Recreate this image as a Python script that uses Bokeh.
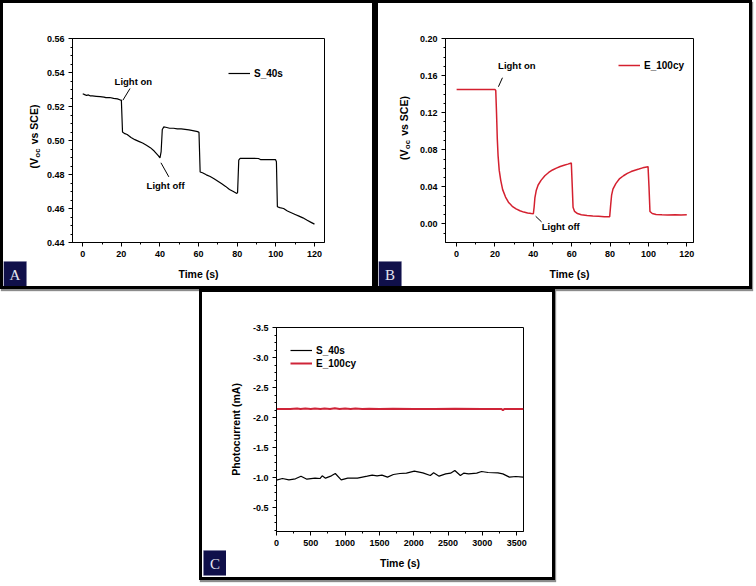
import numpy as np
from bokeh.plotting import figure
from bokeh.models import (Range1d, FixedTicker, NumeralTickFormatter, Label,
                          BoxAnnotation, Legend, LegendItem, Spacer)
from bokeh.layouts import row, column
from bokeh.embed import file_html
from bokeh.resources import INLINE

# ---------------- data ----------------
# Panel A : S_40s open-circuit potential (V vs SCE)
time_A = [0, 1, 2, 3, 4, 5, 7, 9, 11, 12, 14, 16, 18, 19.5, 20, 20.6, 21.5, 23, 25, 27, 29,
          31, 33, 35, 37, 39, 40, 40.6, 41.2, 42, 43, 45, 47, 49, 51, 53, 55, 57, 59.5,
          60.2, 60.8, 62, 64, 66, 68, 70, 72, 74, 76, 78, 79.8, 80.2, 80.8, 81.5, 84, 88,
          91, 92, 96, 99.8, 100.3, 100.8, 102, 104, 106, 108, 110, 112, 114, 116, 118, 120]
voc_A = [0.5275, 0.527, 0.5265, 0.5268, 0.5262, 0.5262, 0.526, 0.5258, 0.5255, 0.5252,
         0.5253, 0.5248, 0.5245, 0.5238, 0.5238, 0.505, 0.5042, 0.5035, 0.5018, 0.5005,
         0.4995, 0.4985, 0.4972, 0.4958, 0.4938, 0.4912, 0.4898, 0.4935, 0.5065, 0.508,
         0.5078, 0.5072, 0.5072, 0.5068, 0.5068, 0.5065, 0.5062, 0.5058, 0.5052, 0.5048,
         0.4815, 0.481, 0.4798, 0.4788, 0.4775, 0.476, 0.4745, 0.473, 0.4712, 0.470,
         0.4688, 0.4695, 0.4885, 0.4895, 0.4895, 0.4895, 0.4894, 0.4888, 0.4888, 0.4888,
         0.4875, 0.461, 0.4605, 0.460, 0.4585, 0.4575, 0.4565, 0.4555, 0.4545, 0.4532,
         0.452, 0.4508]

# Panel B : E_100cy open-circuit potential (V vs SCE)
time_B = [0, 20, 20.4, 20.8, 21.2, 21.6, 22.2, 23, 24, 25.5, 27, 29, 31, 33, 35, 37, 39, 40,
          40.4, 40.8, 41.5, 42.5, 44, 46, 48, 50, 52, 54, 56, 58, 59.8, 60.3, 60.7, 61.5,
          63, 65, 68, 71, 74, 77, 79.8, 80.3, 80.8, 81.5, 83, 85, 87, 89, 91, 93, 95, 97,
          99.8, 100.3, 100.8, 102, 104, 107, 110, 114, 117, 120]
voc_B = [0.145, 0.145, 0.144, 0.12, 0.092, 0.074, 0.058, 0.047, 0.037, 0.029, 0.0235,
         0.019, 0.0162, 0.0142, 0.0128, 0.0118, 0.0112, 0.011, 0.018, 0.028, 0.036, 0.042,
         0.047, 0.052, 0.0555, 0.0582, 0.0602, 0.062, 0.0633, 0.0645, 0.0658, 0.04, 0.018,
         0.0135, 0.0112, 0.010, 0.0092, 0.0086, 0.0082, 0.0078, 0.0078, 0.020, 0.031,
         0.0375, 0.0435, 0.049, 0.052, 0.0545, 0.0565, 0.058, 0.0592, 0.0605, 0.0618,
         0.040, 0.0135, 0.0112, 0.0102, 0.0099, 0.0097, 0.0098, 0.0097, 0.0098]

# Panel C : photocurrent (mA)
time_C_S = [0, 86, 181, 276, 357, 443, 562, 633, 666, 714, 800, 857, 943, 1038, 1180, 1252,
            1323, 1395, 1466, 1537, 1618, 1704, 1799, 1894, 2009, 2133, 2242, 2290, 2370,
            2466, 2537, 2599, 2680, 2728, 2799, 2918, 2989, 3084, 3227, 3299, 3394, 3489,
            3594]
cur_C_S = [-0.956, -0.983, -0.961, -0.978, -1.022, -0.972, -0.989, -0.983, -1.028, -0.989,
           -1.028, -1.067, -0.961, -0.989, -0.989, -1.006, -1.022, -1.039, -1.028, -1.039,
           -1.006, -1.05, -1.067, -1.072, -1.106, -1.078, -1.033, -1.078, -1.022, -1.061,
           -1.072, -1.117, -1.033, -1.072, -1.061, -1.072, -1.1, -1.083, -1.078, -1.061,
           -1.006, -1.017, -1.006]
time_C_E = [0, 200, 300, 350, 420, 500, 560, 640, 700, 780, 850, 920, 1000, 1080, 1150,
            1250, 1350, 1500, 1700, 2000, 2300, 2600, 3000, 3280, 3300, 3320, 3600]
cur_C_E = [-2.14, -2.14, -2.15, -2.14, -2.15, -2.14, -2.15, -2.14, -2.15, -2.14, -2.155,
           -2.14, -2.15, -2.14, -2.15, -2.14, -2.145, -2.14, -2.145, -2.14, -2.14, -2.145,
           -2.14, -2.14, -2.12, -2.14, -2.14]

# tick values
ticks_x_AB = [0, 20, 40, 60, 80, 100, 120]
ticks_y_A = [0.44, 0.46, 0.48, 0.50, 0.52, 0.54, 0.56]
ticks_y_B = [0.00, 0.04, 0.08, 0.12, 0.16, 0.20]
ticks_x_C = [0, 500, 1000, 1500, 2000, 2500, 3000, 3500]
ticks_y_C = [-3.5, -3.0, -2.5, -2.0, -1.5, -1.0, -0.5]

# annotation texts and pointer positions (data coordinates)
ann_A_text = ["Light on", "Light off"]
ann_A_tx = [26.2, 42.9]
ann_A_ty = [0.5345, 0.4737]
ann_A_seg = [(20.8, 0.5237, 24.5, 0.5306), (40.5, 0.4869, 44.6, 0.4786)]
ann_B_text = ["Light on", "Light off"]
ann_B_tx = [31.4, 54.3]
ann_B_ty = [0.1713, -0.0025]
ann_B_seg = [(21.8, 0.148, 23.9, 0.1577), (41.2, 0.0083, 44.3, 0.0022)]

FONT = "Liberation Sans"
RED = "#d4202f"
RED_C = "#cf2438"
PANEL_STYLE = {"border": "3px solid black", "box-shadow": "1px 2px 1px #8c8c8c"}


def make_panel(w, h, bl, br, bt, bb, xr, yr, xt, xminor, yt, yminor, yfmt, xlabel, ylabel=None):
    p = figure(width=w, height=h, output_backend="svg", toolbar_location=None,
               x_range=Range1d(*xr), y_range=Range1d(*yr), frame_align=False,
               min_border_left=bl, min_border_right=br, min_border_top=bt, min_border_bottom=bb)
    p.xgrid.visible = False
    p.ygrid.visible = False
    p.outline_line_color = "black"
    p.outline_line_width = 1
    p.outline_line_alpha = 1
    p.background_fill_color = "white"
    p.border_fill_color = "white"
    p.xaxis.ticker = FixedTicker(ticks=xt, minor_ticks=xminor)
    p.yaxis.ticker = FixedTicker(ticks=yt, minor_ticks=yminor)
    p.yaxis.formatter = NumeralTickFormatter(format=yfmt)
    for ax in (p.xaxis[0], p.yaxis[0]):
        ax.axis_line_color = "black"
        ax.axis_line_width = 1
        ax.major_tick_line_color = "black"
        ax.minor_tick_line_color = "black"
        ax.major_tick_out = 4
        ax.major_tick_in = 0
        ax.minor_tick_out = 2
        ax.minor_tick_in = 0
        ax.major_label_text_font = FONT
        ax.major_label_text_font_style = "bold"
        ax.major_label_text_font_size = "9px"
        ax.major_label_text_color = "black"
        ax.major_label_standoff = 4
        ax.axis_label_text_font = FONT
        ax.axis_label_text_font_style = "bold"
        ax.axis_label_text_font_size = "10.5px"
        ax.axis_label_text_color = "black"
        ax.axis_label_standoff = 8
    p.xaxis.axis_label = xlabel
    if ylabel:
        p.yaxis.axis_label = ylabel
    return p


def make_strip(w, h):
    s = figure(width=w, height=h, output_backend="svg", toolbar_location=None,
               x_range=Range1d(0, w), y_range=Range1d(0, h), frame_align=False,
               x_axis_type=None, y_axis_type=None,
               min_border_left=0, min_border_right=0, min_border_top=0, min_border_bottom=0)
    s.xgrid.visible = False
    s.ygrid.visible = False
    s.outline_line_color = None
    s.background_fill_color = "white"
    s.border_fill_color = "white"
    return s


def panel_tag(s, x0, y0, letter):
    s.add_layout(BoxAnnotation(left=x0, right=x0 + 23, bottom=y0, top=y0 + 25,
                               fill_color="#10104a", fill_alpha=1,
                               line_color="#6c6c98", line_width=1))
    s.add_layout(Label(x=x0 + 11.5, y=y0 + 12, text=letter, text_font="Liberation Serif",
                       text_font_size="15px", text_color="#e4e4f0",
                       text_align="center", text_baseline="middle"))


def voc_title(s, x, yc):
    size_big = 10.5
    size_sub = 7.5
    w1 = 1.0 * size_big + 0.5
    w2 = (0.611 + 0.556) * size_sub + 1.0
    gap = 0.278 * size_big + 0.5
    w3 = 3.78 * size_big
    y0 = yc - (w1 + w2 + gap + w3) / 2
    common = dict(angle=np.pi / 2, text_font=FONT, text_font_style="bold",
                  text_color="black", text_align="left", text_baseline="middle")
    s.add_layout(Label(x=x, y=y0, text="(V", text_font_size=f"{size_big}px", **common))
    s.add_layout(Label(x=x + 3.5, y=y0 + w1, text="oc", text_font_size=f"{size_sub}px", **common))
    s.add_layout(Label(x=x, y=y0 + w1 + w2 + gap, text="vs SCE)",
                       text_font_size=f"{size_big}px", **common))


def annotate(p, texts, tx, ty, segs):
    for t, x, y in zip(texts, tx, ty):
        p.add_layout(Label(x=x, y=y, text=t, text_font=FONT, text_font_style="bold",
                           text_font_size="9.5px", text_color="black",
                           text_align="center", text_baseline="middle"))
    p.segment(x0=[s[0] for s in segs], y0=[s[1] for s in segs],
              x1=[s[2] for s in segs], y1=[s[3] for s in segs],
              line_color="black", line_width=1)


def style_legend(leg, x, y):
    leg.location = (x, y)
    leg.border_line_color = None
    leg.background_fill_alpha = 0
    leg.padding = 0
    leg.margin = 0
    leg.spacing = 1
    leg.glyph_width = 22
    leg.glyph_height = 12
    leg.label_height = 12
    leg.label_standoff = 4
    leg.label_text_font = FONT
    leg.label_text_font_style = "bold"
    leg.label_text_font_size = "10px"
    leg.label_text_color = "black"


# ---------------- panel A ----------------
H_TOP = 283
sA = make_strip(40, H_TOP)
voc_title(sA, 30, 150)
panel_tag(sA, 0, 0, "A")
pA = make_panel(329, H_TOP, 28, 48, 35, 44, (-5.3, 125.2), (0.44, 0.56),
                ticks_x_AB, list(range(0, 121, 10)),
                ticks_y_A, [round(0.44 + 0.005 * i, 3) for i in range(25)],
                "0.00", "Time (s)")
rA = pA.line(time_A, voc_A, line_color="black", line_width=1.2)
annotate(pA, ann_A_text, ann_A_tx, ann_A_ty, ann_A_seg)
legA = Legend(items=[LegendItem(label="S_40s", renderers=[rA])])
style_legend(legA, 156, 163)
pA.add_layout(legA)
panelA = row(sA, pA, styles=PANEL_STYLE)

# ---------------- panel B ----------------
sB = make_strip(38, H_TOP)
voc_title(sB, 25.5, 158.5)
panel_tag(sB, 0, 0, "B")
pB = make_panel(333, H_TOP, 27, 56, 35, 44, (-5.8, 123.5), (-0.02, 0.20),
                ticks_x_AB, list(range(0, 121, 10)),
                ticks_y_B, [round(-0.01 + 0.01 * i, 3) for i in range(22)],
                "0.00", "Time (s)")
rB = pB.line(time_B, voc_B, line_color=RED, line_width=1.5)
annotate(pB, ann_B_text, ann_B_tx, ann_B_ty, ann_B_seg)
legB = Legend(items=[LegendItem(label="E_100cy", renderers=[rB])])
style_legend(legB, 173, 171)
pB.add_layout(legB)
panelB = row(sB, pB, styles=PANEL_STYLE)

# ---------------- panel C ----------------
H_BOT = 285
sC = make_strip(24, H_BOT)
panel_tag(sC, 1, 2, "C")
pC = make_panel(326, H_BOT, 45, 29, 35, 46, (0, 3600), (-0.1, -3.5),
                ticks_x_C, list(range(0, 3600, 250)),
                ticks_y_C, [round(-3.5 + 0.125 * i, 3) for i in range(28)],
                "0.0", "Time (s)", "Photocurrent (mA)")
rCS = pC.line(time_C_S, cur_C_S, line_color="black", line_width=1.2)
rCE = pC.line(time_C_E, cur_C_E, line_color=RED_C, line_width=2)
legC = Legend(items=[LegendItem(label="S_40s", renderers=[rCS]),
                     LegendItem(label="E_100cy", renderers=[rCE])])
style_legend(legC, 14, 162)
pC.add_layout(legC)
panelC = row(sC, pC, styles=PANEL_STYLE)

layout = column(row(panelA, panelB), row(Spacer(width=199, height=291), panelC))

with open("out.html", "w") as f:
    f.write(file_html(layout, INLINE))
